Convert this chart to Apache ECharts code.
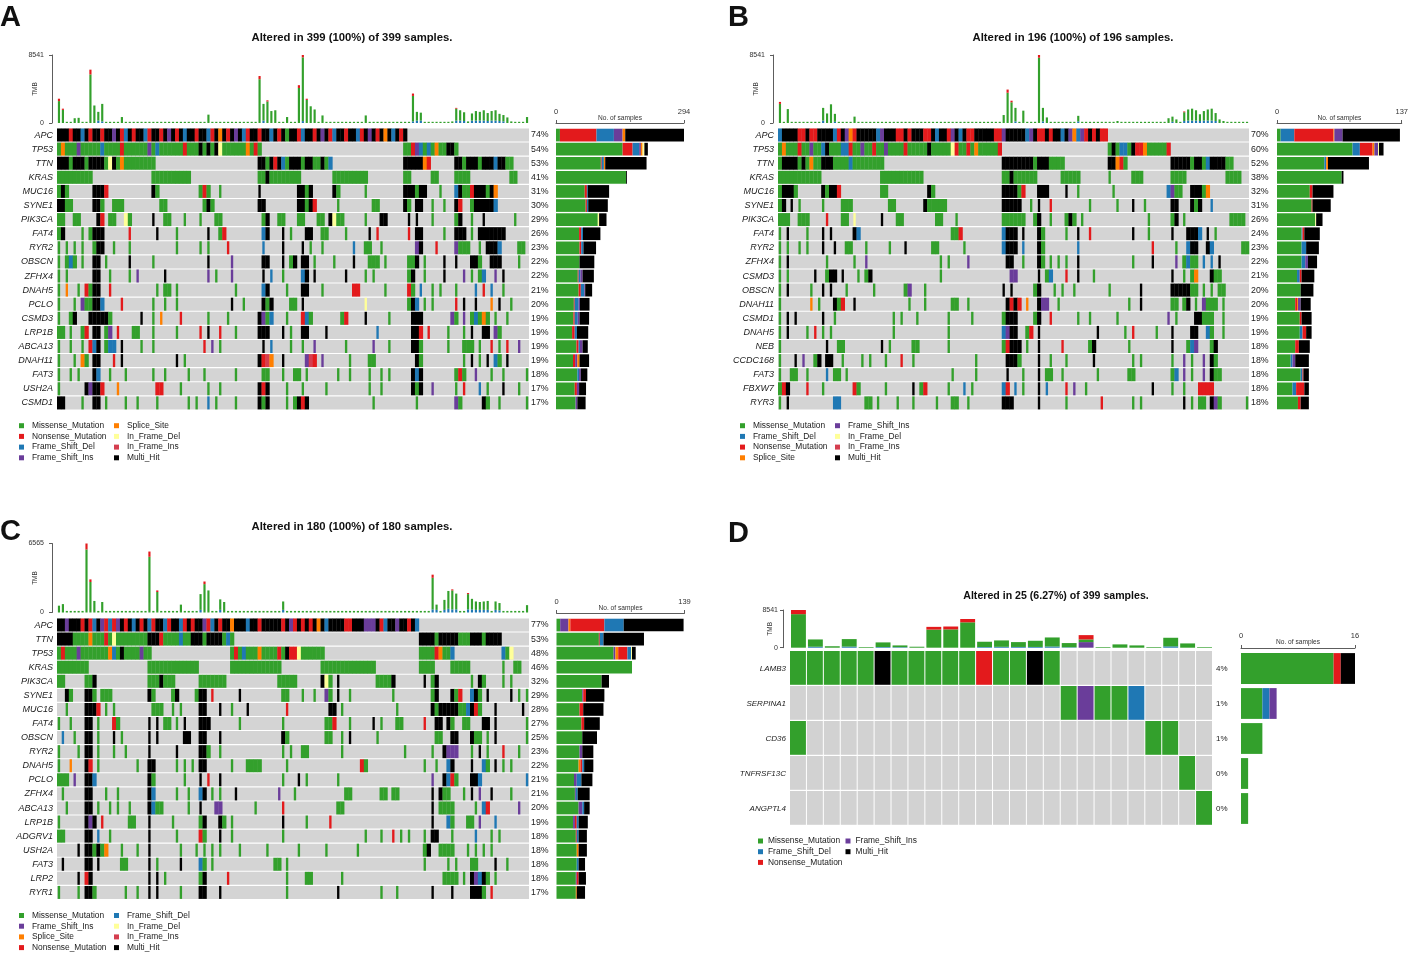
<!DOCTYPE html>
<html><head><meta charset="utf-8">
<script src="https://cdn.jsdelivr.net/npm/echarts@6/dist/echarts.min.js"></script>
<style>html,body{margin:0;padding:0;background:#fff}#c{width:1411px;height:956px}</style>
</head><body><div id="c"></div>
<script>
// ---------- mutation types ----------
const TYPE_NAMES = ['Missense_Mutation','Nonsense_Mutation','Frame_Shift_Del','Frame_Shift_Ins','Splice_Site','In_Frame_Del','In_Frame_Ins','Multi_Hit'];
const TYPE_COLORS = ['#33A02C','#E31A1C','#1F78B4','#6A3D9A','#FF7F00','#FFFF99','#D53E4F','#000000'];
const CODE_IDX = {g:0,r:1,b:2,p:3,o:4,y:5,k:6,x:7};

// ---------- panel A ----------
const genesA = ['APC','TP53','TTN','KRAS','MUC16','SYNE1','PIK3CA','FAT4','RYR2','OBSCN','ZFHX4','DNAH5','PCLO','CSMD3','LRP1B','ABCA13','DNAH11','FAT3','USH2A','CSMD1'];
const pctA = ['74%','54%','53%','41%','31%','30%','29%','26%','23%','22%','22%','21%','20%','19%','19%','19%','19%','18%','17%','17%'];
const rowsA = [
"xxxrxxbxrx xrxxpxrbxr xxbrxxrxpx rxbxxrxxbr xoxrxpxbrx xrxxbxrxgx xrbxxrxpxr bxxrxxbrxp xrxoxbxrx. .......... .......... ..........",
"gogggpgggg gbggggrggg gggpgbgggg ggrgggxgxg xyggggggog rg........ .......... .......... ........gg rpbgbgoggx xg........ ..........",
"xxxgxxxgxx xxgyxgoggg ggggg..... .......... .......... .xxgxrxbgx xxgxxggxgb .......... ........xx xxxor..... .xxgxxxgxx xbxxgg....",
"ggggggggg. .......... ....gggggg gggg...... .......... .ggxgggggg gg........ ggggggggg. ........gg .....gg... .gggg..... .....gg...",
"gxg......x xxr....... ....xg.... ......grg. .g........ .x........ .xxgx..... xg......g. ........xx xgxx...g.. .bxggrxxxg xo........",
"xxgg.....x xg..ggg... ......gg.. .......gxg .......... .xx....... .xxgxr.... .g........ gg......xg .xx..g..g. .xr..gxxxx xb........",
"gg..gg.... xr.gg..yg. ....x..gg. ..g...g... gg........ ..gx..gg.. .gg...gg.x ygg.....g. ..xx.....x .x...g.... .gx..g..x. ......g...",
"gx....g.gx xx......r. .....x.... g.......x. .gr....... ..bx...x.g ...xx..gg. ...g.....x .r.......r .xx.....g. .xxx.g.xxx xxxx......",
"g.g.g.g..g xx..g...g. .......... g.....g.g. ...r...... ..b....x.. ..x.g..g.. .....b..gg ..g....... .px...r... .pggg..g.x xxb....gg.",
"g.gbg.g..x x.g.....x. ....g..... ........x. ....p..... ..xx...x.g x.xx.g.... g....x...g gg.g.....g gx.g....x. .x...xxg.. xxx....g..",
"g.g......x x..g....g. p......x.. ........p. g...p..... ..x.b..g.. ..bx.x.... ...x....g. g........g x..g....x. ...p.g.gb. .p.x......",
"g.o..g.rgx x..r...... .....g.gg. g......... .....g.... ..bx....g. ..xx...g.. .....rr... ...g.....r g.b..g.g.. .g....b.r. b..g......",
"g...g.pggx xb....r... ....g..g.. g......... ....x..g.. ..xgx....g g.x....... ........y. .........g xb.g.g.... .r.x..x... o.x..g....",
"g..gx...xx xxxg...... .x..g.o... .r......g. ...g...... .xpgb...g. ..rbg..... ..gr....x. ....g..... xxx....... pg.p.gbgog .g..g.....",
"gg.g..gr.x x.gp.r...g g...g..... g.....r.x. .r...g.... .xxx...x.g ..xx....x. .......... .b........ xxr.r....g ...g.x..xx .pg.......",
"g..g..g.rb x.gbb.x... .g..g..... .......r.p .g........ ..x.b....g ..g..p.... ...g...... p...g..... xxg......g ...ggg.g.. r.g.r..p..",
"g...g.og.x x...r.x... .......... x.g....... .......... .xrko..x.. ...pkr.p.. ....g....g g......... .xg....... ...g.x.g.x .bg.x.....",
"g..g.g...x b..g...g.. ....g..g.. ...g...g.. .....g.... ..gg...g.. gg.g...... .g..g....g ..g.g..... xbx....... .grg..p... g..g.....g",
"g......xpx xr...o.... .....rr... .g......g. .g........ .xrx....g. ..g.....g. .........g ..g....... xgx..p.... .g.r...b.g ...x...g..",
"xx....g..x x.g....g.. g....g.... ...g.g..b. g....g.... .xgx....g. gxrx...... .......... g......... .g........ .pg.....xg ..g......g"
];
const tmbA_mis = [
2750,1650,150,150,600,650,150,150,6100,2200,
1100,2200,150,150,150,150,750,150,150,150,
150,150,150,150,150,150,150,150,150,150,
150,150,150,150,150,150,150,150,1050,150,
150,150,150,150,150,150,150,150,150,150,
150,5500,2100,2700,1500,1600,150,150,750,150,
150,4400,8000,2900,2100,1700,150,950,150,150,
150,150,150,150,150,150,150,150,950,150,
150,150,150,150,150,150,150,150,150,150,
3200,1100,1000,150,150,150,150,150,150,150,
200,1500,1300,1100,200,900,1200,1100,1300,1000,
1200,1300,900,800,700,200,150,150,150,750];
const tmbA_non = [[0,300],[1,150],[8,600],[51,400],[53,150],[61,350],[62,300],[63,150],[90,300],[101,100]];
const tmbA_fsd = [[10,300],[11,200],[52,300],[62,241],[90,200],[91,300],[92,300],[101,300],[102,300],[103,250],[105,300],[106,300],[107,300],[108,300],[109,250],[110,300],[111,300],[112,250],[113,200]];
const A_mis = [9,153,103,161,66,68,96,53,54,54,50,52,41,40,37,47,39,49,43,45];
const A_non = [84,23,2,0,5,3,0,5,4,0,2,5,2,3,6,5,5,0,5,0];
const A_fsd = [40,15,5,0,2,3,0,4,5,0,4,8,9,7,5,3,0,4,0,0];
const A_fsi = [20,4,0,0,0,0,0,0,0,0,5,2,3,4,0,6,5,4,5,4];
const A_spl = [6,4,3,0,0,0,0,0,0,0,0,0,0,0,0,0,5,0,0,0];
const A_ifd = [0,4,0,0,0,0,3,0,0,0,0,0,0,0,0,0,0,0,0,0];
const A_ifi = [0,0,0,0,0,0,0,0,0,0,0,0,0,0,0,0,0,0,0,0];
const A_mh  = [135,8,95,2,49,45,17,40,29,34,26,16,22,22,26,12,22,15,16,19];

// ---------- panel B ----------
const genesB = ['APC','TP53','TTN','KRAS','MUC16','SYNE1','PIK3CA','FAT4','RYR2','ZFHX4','CSMD3','OBSCN','DNAH11','CSMD1','DNAH5','NEB','CCDC168','FAT3','FBXW7','RYR3'];
const pctB = ['70%','60%','52%','38%','32%','31%','26%','24%','23%','22%','21%','20%','20%','19%','19%','18%','18%','18%','18%','18%'];
const rowsB = [
"bxxxxrrxrr xxxxbrxpor xxxxxbpxxx rrxrxxxrrx bxxrpxbxrr xxxxxrrpxx xxxbpxrrxr xxbxpobprx rxrr...... .......... .......... ..........",
"gogggrggpg gbxgggbbrg gpggrggpgg ggrgggggxg ggggyrggrg ogggggr... .......... .......... ....gxgbbg xrrogggggr .......... ..........",
"gxxxxgxgog gxxxggggbg ggggggg... .......... .......... .......xxx xxxxxgxxxg ggg....... ....xxorg. .......... xxxxxgxxgb xxxxgg....",
"gggggggggg g......... ......gggg ggggggg... .......... .......ggx gggggg.... ..ggggg... ....g..... ggg....... gggg...... ....gggg..",
"gxxxg..... .xgxxr.... ......gg.. ........xg .......... .......xxx xgr...xxx. ...x..g... .....g.... .........b pgg..xxxgo ..........",
"gx.x.g.... .g....ggg. ........gg .......xgg ggg....... .......xxx xx..g.x..r .........g ......g... x..g...... xx...xgx.. b.........",
"ggg..ggg.. ..r...gg.y ......x... gg........ gg...g.... .......ggg ggg..gx..g ...gxg.g.. .......... ....g..... gx.g...... .....gggg.",
"g.x....g.. .x.x.....x b......... .......... ....ggr... .......bxx x.x...xg.. ...g..x..r .......... x...g..... x...xxxb.x .g........",
"g.g..g.g.. .x..x..gg. ..g.....g. ..x......g g......g.. .......bxx x.b...xg.. ......b... .......... .....r.... .g..bxx..x b.......gg",
"g.x....... ..g......g ..p....... .......... .g.g....p. ........xx ..g...xg.g .g.g..x... .......... g....x.... .p.gbgg.b. b.x.......",
"g.g......x ..gxx.x... g.gx...... .......... .g........ .........p p.....x.gb ...r..x... g......... .......... x..g.go... xgg.......",
"g.x.....g. .x.x...g.. ....g..... ..gp...g.. .......... .......x.x .....gx... g.g..g.... ....g..... ..x....... xxxxxgg.g. g.gg......",
"g.......o. g...xgr..x .......... ...g...g.. ....gg..g. ........xr xr.o..xpp. .g........ .........g ..x....... gg.gx.g.pg gg.g......",
"g.x.x..... .x..g..... .........g .g...g.... ...g.....g .......gxx x....gx..r ......g..g ......g... .........p .g....xxgg g..g......",
"g.x....g.r .g.g...... .........g .......... ...g...... .......bpx x..gr.x... .......... .x......g. r.....g... x....xx..b g..g......",
"g......... ..x..gg... ......x.g. ....gg.... ...g...... .......grx xx.g..x... ..r......g x........g .......... x...gbp... gx........",
"g...x.p..g x.xx..g... .g.g...g.. .r..g..... .......... g.......xx xg....x..g ...g...... x......... g.g....... g..p.g..p. xg........",
"g..gg..g.. ..b.gg.g.. .......... .......... ....g..... g.......x. ..g...x.gg ..g....... .g.......g g......... gb.p.g..p. xgg.......",
"grx....r.. .g.......r g......g.. ....x.gr.. ...g...b.g .......br. b.g...x.b. ...r.p..g. .......... .....x.... g..g...rrr r.........",
"g.x....... ....bb.... ..gg.g.... g...g..... g...gg..g. .......xxx ......x... ...g...... ..r....... g.g....... ...x.g.gg. xpg......g"
];
const tmbB_mis = [
2400,150,1750,150,150,150,150,150,150,150,
150,1600,1200,2350,1000,150,150,150,150,800,
150,150,150,150,150,150,150,150,150,150,
150,150,150,150,150,150,150,150,150,150,
150,150,150,150,150,150,150,150,150,150,
150,150,150,150,150,150,150,1000,3800,2600,
1700,150,1550,150,150,150,8200,1700,700,150,
150,150,150,150,150,150,700,150,150,150,
150,150,150,150,150,150,250,150,150,150,
150,150,150,150,150,150,150,150,150,600,
650,450,150,1100,1400,1500,1300,850,1200,1400,
1500,1000,450,250,150,150,150,150,150,150];
const tmbB_non = [[0,250],[58,400],[59,200],[66,341],[103,100]];
const tmbB_fsd = [[11,300],[14,150],[60,200],[67,200],[76,200],[100,150],[103,250],[104,300],[105,300],[106,300],[107,250],[108,300],[109,300],[110,300],[111,250]];
const B_mis = [4,83,52,71,36,38,42,27,27,27,22,26,20,25,25,20,15,26,17,23];
const B_fsd = [15,8,2,0,0,0,0,1,5,4,3,0,0,0,3,0,2,2,4,0];
const B_non = [43,14,0,0,3,1,0,2,0,0,2,0,2,2,4,4,0,1,9,3];
const B_spl = [1,2,2,0,0,0,0,0,0,0,0,0,1,0,0,0,0,0,0,0];
const B_fsi = [9,4,0,0,0,0,0,0,0,3,0,0,3,0,0,0,3,0,0,0];
const B_ifd = [0,1,0,0,0,0,1,0,0,0,0,0,0,0,0,0,0,0,0,0];
const B_ifi = [0,0,0,0,0,0,0,0,0,0,0,0,0,0,0,0,0,0,0,0];
const B_mh  = [63,5,45,2,23,20,7,17,14,10,14,14,11,11,6,12,15,6,5,9];

// ---------- panel C ----------
const genesC = ['APC','TTN','TP53','KRAS','PIK3CA','SYNE1','MUC16','FAT4','OBSCN','RYR2','DNAH5','PCLO','ZFHX4','ABCA13','LRP1B','ADGRV1','USH2A','FAT3','LRP2','RYR1'];
const pctC = ['77%','53%','48%','46%','32%','29%','28%','27%','25%','23%','22%','21%','21%','20%','19%','18%','18%','18%','18%','17%'];
const rowsC = [
"xxpxxxrxrb xprbrpxrxb xrxbrxxbrx xbrxrxxprb xrxxoxxxbx xrxxxxxrxp rxrxrxoxbx xxxrrxxxpp pxrbxxpxxr xb........ .......... ..........",
"xxxxggggog ggrgyggggg gggxxxrggg gbggxxxgxx xxgbg..... .......... .......... .......... .......... ..xxxxgxxx xxgggxxxgx xxx.......",
"grgggpgggg gggobgxggg gpgg...... .......... ....grgbgg goggggrgxr rygggggg.. .......... .......... ..ggggrogg b......... ...bgy....",
"gggggggg.. .......... ...ggggggg gggggg.... ....gggggg ggggggg... .......ggg gggggggggg g......... ..gggg.... ggggg..... ...g..gg..",
"gg.....ggx .......... ...gggxggg ......gggg ggg....... ......gggg g......xyg .x........ .ggggx.... ...x.gx... .....g.xg. ...g.g....",
"..xg...xxg .ggg...... ...xg....g x....gxx.r ......x... .......gg. ..g..g..pg .x..g..... .....g.... .....gx... xgr..bxg.x .....x.g.g",
"..g....xxx r.g.g..... ....ggg..g .g....xx.. .x..g...x. ........r. .........x x.g....... ......g... .....xgxxx xxggbxrg.. .x......x.",
"g..g...xx. g...rg.... ...x.x.gg. g.x...xxx. ......g... .......g.. ........gg r...g..... x.g...gg.. ...r..xx.x g..gg...xx .x.......g",
".b..g..xx. g...x.g... ...x.x.... ..xx..xx.. .x........ .......xg. ........gg ..g.x..... .g........ ......gg.. xx...xgg.g .x.......g",
"g....g.xx. g...g..g.. ...x...... x.....xxg. .g........ .......g.g ..gg...... ..g....... ........g. .....g..xp pp...g.x.g ...r...g..",
"g..o...xr. g......... g..xx..... g.g.g.xx.. ....g...gg gg......g. .......... .......rg. .......... ...g..g..b x....x..bg .x.g.g....",
"ggg.p..xxb .......... ...xg..... ..g...x.r. .x........ .......g.. .x.g...... .g........ .......... .....p..xb rg...xxb.. .........b",
".g.....xx. ..g..g.... ...xb..... g..g..bx.g .g...x.... ......p... g......... ...gg..... ..gg.gg... .....x.xgg ...g.x.p.. x....g....",
"..g....xx. g..g.g..g. ...xbgg... ...g..x... pp........ g......r.. .......... .gg....... .......... .....x.ggg g.....g.br .......p..",
"g......xpx .r......gg ...x.....g ......gx.. .xg.g..... .......x.. ...g.....r .......... .......... .....x...b g...gg.p.. .b........",
"gg.....xx. b..g...... ...x...... g.....rg.. .x..g..... .......g.. .......... ........g. ..g..r.g.g ...g.xx... g.....b... g.g.......",
".....x.xxg xgo...g... g..x...... .g...g.g.g .g....g... ...g...... .g......g. ......g... .......... ...gx..ggg g...g.g.g. g.........",
".x.....xx. x.....gg.. ...x.g.... .x....bg.g .......... .....gg.g. .......... .......... .......... ...g.....g .g...gg... .x..g.....",
".....x.rx. .......... ...x.x.g.. ......gx.. ...r...... ........g. ...gg..... ..g....... .......... ........gg gg.g.xpbxg .g........",
"g....g.xxg .......g.. g..x.x.... .g....xx.. .x........ ........g. .......... .x........ ..g...g... .....x.... x....xxxg. r........."
];
const tmbC_mis = [
650,800,150,150,150,150,150,6000,2900,1100,
150,1000,150,150,150,150,150,150,150,150,
150,150,150,5300,150,1950,150,150,150,150,
150,750,150,150,150,150,1500,2700,2100,150,
150,1000,1000,150,150,150,150,150,150,150,
150,150,150,150,150,150,150,800,150,150,
150,150,150,150,150,150,150,150,150,150,
150,150,150,150,150,150,150,150,150,150,
150,150,150,150,150,150,150,150,150,150,
150,150,150,150,150,3000,500,150,950,1700,
1800,1500,150,150,1450,1000,800,750,800,850,
150,800,700,150,150,150,150,150,150,700];
const tmbC_non = [[7,565],[8,250],[23,500],[25,150],[37,250],[95,300],[100,100],[104,100]];
const tmbC_fsd = [[36,250],[41,250],[57,250],[95,300],[96,250],[98,250],[99,350],[100,300],[101,300],[104,300],[105,300],[106,250],[107,250],[108,250],[109,250],[111,250],[112,200]];
const C_mis = [4,46,62,82,49,28,25,27,28,25,24,19,20,24,18,21,22,22,21,21];
const C_fsi = [9,0,2,0,0,1,0,0,0,3,0,3,1,4,2,0,0,0,1,0];
const C_spl = [2,0,3,0,0,0,0,0,0,0,2,0,0,0,0,0,2,0,0,1];
const C_non = [37,1,10,0,0,3,4,3,0,0,2,0,0,0,2,1,0,0,2,0];
const C_fsd = [21,4,4,0,0,0,0,0,0,0,2,5,2,2,2,2,0,2,0,0];
const C_ifd = [0,0,1,0,0,0,0,0,0,0,0,0,0,0,0,0,0,0,0,0];
const C_ifi = [0,0,0,0,0,0,0,0,0,0,0,0,0,0,0,0,0,0,0,0];
const C_mh  = [65,44,4,0,8,20,22,17,16,12,10,12,13,6,10,9,9,7,8,9];

// ---------- panel D ----------
const genesD = ['LAMB3','SERPINA1','CD36','TNFRSF13C','ANGPTL4'];
const pctD = ['4%','1%','1%','0%','0%'];
const rowsD = [
"gggggxgggggrggxg.........",
"................gpggb....",
"g....................gg..",
".......................g.",
"........................g"
];
const tmbD_mis = [7600,1650,330,1700,150,1050,400,220,4100,4150,5750,1200,1450,1100,1400,2050,950,600,150,750,520,150,1950,970,150];
const tmbD_non = [[0,940],[8,620],[9,650],[10,750],[17,980]];
const tmbD_fsd = [[1,220],[3,250],[5,150],[6,120],[11,150],[12,200],[13,170],[14,170],[15,270],[16,100],[22,300]];
const tmbD_fsi = [[17,1270]];
const D_mis = [13,3,3,1,1];
const D_fsd = [0,1,0,0,0];
const D_non = [1,0,0,0,0];
const D_fsi = [0,1,0,0,0];
const D_mh  = [2,0,0,0,0];

// ---------- helpers ----------
const FONT = '"Liberation Sans", Arial, Helvetica, sans-serif';
function expand(sparse, n){ const a = new Array(n).fill(0); sparse.forEach(([i,v]) => { a[i] = v; }); return a; }
function parseRows(rows, L){ return rows.map(s => { s = s.replace(/\s+/g,''); if (s.length < L) s += '.'.repeat(L - s.length); return s.slice(0, L); }); }

const panels = [
 {genes:genesA, pct:pctA, rows:rowsA, L:120, tmbMax:8541,
  tmb:[[2,expand(tmbA_fsd,120)],[0,tmbA_mis],[1,expand(tmbA_non,120)]],
  side:[[0,A_mis],[1,A_non],[2,A_fsd],[3,A_fsi],[4,A_spl],[5,A_ifd],[6,A_ifi],[7,A_mh]], sideMax:294,
  tmbBox:{left:57,top:55,width:472,height:68}, matBox:{left:57,top:128,width:472,height:282}, sideBox:{left:556,top:128,width:128,height:282},
  geneFont:9, pctFont:8.8, yOff:5, labMargin:8, nameGap:13, barW:'55%', sideBarW:'90%', sideOff:5, sideLabMargin:7, sideNameGap:1, dense:true},
 {genes:genesB, pct:pctB, rows:rowsB, L:120, tmbMax:8541,
  tmb:[[2,expand(tmbB_fsd,120)],[0,tmbB_mis],[1,expand(tmbB_non,120)]],
  side:[[0,B_mis],[2,B_fsd],[1,B_non],[4,B_spl],[3,B_fsi],[5,B_ifd],[6,B_ifi],[7,B_mh]], sideMax:137,
  tmbBox:{left:778,top:55,width:471,height:68}, matBox:{left:778,top:128,width:471,height:282}, sideBox:{left:1277,top:128,width:128,height:282},
  geneFont:9, pctFont:8.8, yOff:5, labMargin:8, nameGap:13, barW:'55%', sideBarW:'90%', sideOff:5, sideLabMargin:7, sideNameGap:1, dense:true},
 {genes:genesC, pct:pctC, rows:rowsC, L:120, tmbMax:6565,
  tmb:[[2,expand(tmbC_fsd,120)],[0,tmbC_mis],[1,expand(tmbC_non,120)]],
  side:[[0,C_mis],[3,C_fsi],[4,C_spl],[1,C_non],[2,C_fsd],[5,C_ifd],[6,C_ifi],[7,C_mh]], sideMax:139,
  tmbBox:{left:57,top:543.5,width:472,height:69}, matBox:{left:57,top:618,width:472,height:281.5}, sideBox:{left:556.5,top:618,width:128,height:281.5},
  geneFont:9, pctFont:8.8, yOff:5, labMargin:8, nameGap:13, barW:'55%', sideBarW:'90%', sideOff:5, sideLabMargin:7, sideNameGap:1, dense:true},
 {genes:genesD, pct:pctD, rows:rowsD, L:25, tmbMax:8541,
  tmb:[[2,expand(tmbD_fsd,25)],[3,expand(tmbD_fsi,25)],[0,tmbD_mis],[1,expand(tmbD_non,25)]],
  side:[[0,D_mis],[2,D_fsd],[1,D_non],[3,D_fsi],[7,D_mh]], sideMax:16,
  tmbBox:{left:790,top:610,width:423,height:37.7}, matBox:{left:790,top:651,width:423,height:175}, sideBox:{left:1241,top:651,width:114,height:175},
  geneFont:8, pctFont:8, yOff:7, labMargin:5, nameGap:9, barW:'88%', sideBarW:'88%', sideOff:3, sideLabMargin:8, sideNameGap:2, dense:false}
];

const grid = [], xAxis = [], yAxis = [], series = [];
const axisCol = '#333';
const plain = v => String(v);

panels.forEach((P, pi) => {
  const g0 = grid.length, xi = xAxis.length, yi = yAxis.length;
  grid.push(Object.assign({}, P.tmbBox), Object.assign({}, P.matBox), Object.assign({}, P.sideBox));
  const cats = Array.from({length:P.L}, (_, i) => String(i + 1));
  xAxis.push({type:'category', gridIndex:g0, data:cats, show:false, boundaryGap:true});
  xAxis.push({type:'value', gridIndex:g0+1, min:0, max:P.L, show:false});
  xAxis.push({type:'value', gridIndex:g0+2, min:0, max:P.sideMax, interval:P.sideMax, position:'top', offset:P.sideOff,
    axisLine:{show:true, lineStyle:{color:axisCol, width:0.8}}, axisTick:{show:true, length:3, lineStyle:{color:axisCol, width:0.8}},
    axisLabel:{fontSize:7.5, color:'#333', margin:P.sideLabMargin, fontFamily:FONT, formatter:plain}, splitLine:{show:false},
    name:'No. of samples', nameLocation:'middle', nameGap:P.sideNameGap, nameMoveOverlap:false,
    nameTextStyle:{fontSize:6.6, color:'#333', fontFamily:FONT}});
  yAxis.push({type:'value', gridIndex:g0, min:0, max:P.tmbMax, interval:P.tmbMax, offset:P.yOff,
    axisLine:{show:true, lineStyle:{color:axisCol, width:0.8}}, axisTick:{show:true, length:3, lineStyle:{color:axisCol, width:0.8}},
    axisLabel:{fontSize:7, color:'#333', margin:P.labMargin, fontFamily:FONT, formatter:plain}, splitLine:{show:false},
    name:'TMB', nameLocation:'middle', nameRotate:90, nameGap:P.nameGap, nameMoveOverlap:false,
    nameTextStyle:{fontSize:6.5, color:'#333', fontFamily:FONT}});
  yAxis.push({type:'category', gridIndex:g0+1, data:P.genes, inverse:true, axisLine:{show:false}, axisTick:{show:false},
    axisLabel:{interval:0, fontSize:P.geneFont, fontStyle:'italic', color:'#222', margin:4, fontFamily:FONT}});
  yAxis.push({type:'category', gridIndex:g0+1, data:P.pct, inverse:true, position:'right', axisLine:{show:false}, axisTick:{show:false},
    axisLabel:{interval:0, fontSize:P.pctFont, color:'#222', margin:P.dense ? 2 : 3, fontFamily:FONT}});
  yAxis.push({type:'category', gridIndex:g0+2, data:P.genes, inverse:true, show:false});

  // TMB stacked bars
  P.tmb.forEach(([t, arr]) => series.push({type:'bar', name:TYPE_NAMES[t], xAxisIndex:xi, yAxisIndex:yi, stack:'tmb'+pi,
    data:arr, barWidth:P.barW, itemStyle:{color:TYPE_COLORS[t]}, silent:true}));

  // oncoplot matrix
  const rows = parseRows(P.rows, P.L);
  const L = P.L;
  if (P.dense) {
    series.push({type:'custom', xAxisIndex:xi+1, yAxisIndex:yi+1, z:1, silent:true, encode:{x:0, y:1},
      data:P.genes.map((_, r) => [0, r]),
      renderItem:(params, api) => {
        const r = api.value(1);
        const a = api.coord([0, r]), b = api.coord([L, r]);
        const h = api.size([0, 1])[1];
        return {type:'rect', shape:{x:a[0], y:a[1]-h/2+0.5, width:b[0]-a[0], height:h-1.1}, style:{fill:'#d4d4d4'}};
      }});
    const cells = [];
    rows.forEach((s, r) => {
      for (let i = 0; i < s.length; i++) {
        const c = CODE_IDX[s[i]];
        if (c === undefined) continue;
        // a lone sample (no coloured neighbour) is drawn as a thin stripe, like a single sample column
        const lone = (i === 0 || s[i-1] === '.') && (i === s.length-1 || s[i+1] === '.');
        cells.push([i, r, c, lone ? 1 : 0]);
      }
    });
    series.push({type:'custom', xAxisIndex:xi+1, yAxisIndex:yi+1, z:2, silent:true, encode:{x:0, y:1},
      data:cells,
      renderItem:(params, api) => {
        const x = api.value(0), r = api.value(1), t = api.value(2), lone = api.value(3);
        const a = api.coord([x, r]), b = api.coord([x+1, r]);
        const h = api.size([0, 1])[1];
        const w = b[0] - a[0];
        const ww = lone ? w * 0.6 : w + 0.3;
        const xx = lone ? a[0] + w * 0.2 : a[0];
        return {type:'rect', shape:{x:xx, y:a[1]-h/2+0.5, width:ww, height:h-1.1}, style:{fill:TYPE_COLORS[t]}};
      }});
  } else {
    const cells = [];
    rows.forEach((s, r) => { for (let i = 0; i < s.length; i++) { const c = CODE_IDX[s[i]]; cells.push([i, r, c === undefined ? -1 : c]); } });
    series.push({type:'custom', xAxisIndex:xi+1, yAxisIndex:yi+1, z:2, silent:true, encode:{x:0, y:1},
      data:cells,
      renderItem:(params, api) => {
        const x = api.value(0), r = api.value(1), t = api.value(2);
        const a = api.coord([x, r]), b = api.coord([x+1, r]);
        const h = api.size([0, 1])[1];
        return {type:'rect', shape:{x:a[0], y:a[1]-h/2, width:b[0]-a[0]-1, height:h-1.2}, style:{fill: t < 0 ? '#d2d2d2' : TYPE_COLORS[t]}};
      }});
  }

  // side stacked bars
  P.side.forEach(([t, arr]) => series.push({type:'bar', name:TYPE_NAMES[t], xAxisIndex:xi+2, yAxisIndex:yi+3, stack:'side'+pi,
    data:arr, barWidth:P.sideBarW, itemStyle:{color:TYPE_COLORS[t]}, silent:true}));
});

function mkLegend(names, left, top, pad){
  return {show:true, orient:'vertical', left:left, top:top, itemWidth:5, itemHeight:5, itemGap:0.7, icon:'rect', padding:0,
    selectedMode:false, data:names, textStyle:{fontSize:8.4, fontFamily:FONT, color:'#222', lineHeight:10, padding:[0,0,0,pad]}};
}
const T = TYPE_NAMES;
const legend = [
  mkLegend([T[0],T[1],T[2],T[3]], 19, 420.7, 3), mkLegend([T[4],T[5],T[6],T[7]], 114, 420.7, 3),
  mkLegend([T[0],T[2],T[1],T[4]], 740, 420.7, 3), mkLegend([T[3],T[5],T[6],T[7]], 835, 420.7, 3),
  mkLegend([T[0],T[3],T[4],T[1]], 19, 910.5, 3), mkLegend([T[2],T[5],T[6],T[7]], 114, 910.5, 3),
  mkLegend([T[0],T[2],T[1]], 758, 836, 0), mkLegend([T[3],T[7]], 845.5, 836, 0)
];

function txt(text, x, y, font, align){
  return {type:'text', x:x, y:y, silent:true, style:{text:text, font:font, fill:'#111', align:align || 'center', verticalAlign:'middle', textAlign:align || 'center', textVerticalAlign:'middle'}};
}
const graphic = [
  txt('A', 0, 18, 'bold 29px ' + FONT, 'left'),
  txt('B', 728, 18, 'bold 29px ' + FONT, 'left'),
  txt('C', 0, 532, 'bold 29px ' + FONT, 'left'),
  txt('D', 728, 534, 'bold 29px ' + FONT, 'left'),
  txt('Altered in 399 (100%) of 399 samples.', 352, 38, 'bold 11.3px ' + FONT),
  txt('Altered in 196 (100%) of 196 samples.', 1073, 38, 'bold 11.3px ' + FONT),
  txt('Altered in 180 (100%) of 180 samples.', 352, 527, 'bold 11.3px ' + FONT),
  txt('Altered in 25 (6.27%) of 399 samples.', 1056, 596, 'bold 10.6px ' + FONT)
];

const chart = echarts.init(document.getElementById('c'), null, {renderer:'canvas'});
chart.setOption({
  animation:false, backgroundColor:'#ffffff',
  textStyle:{fontFamily:FONT},
  grid, xAxis, yAxis, series, legend, graphic
});
</script></body></html>
